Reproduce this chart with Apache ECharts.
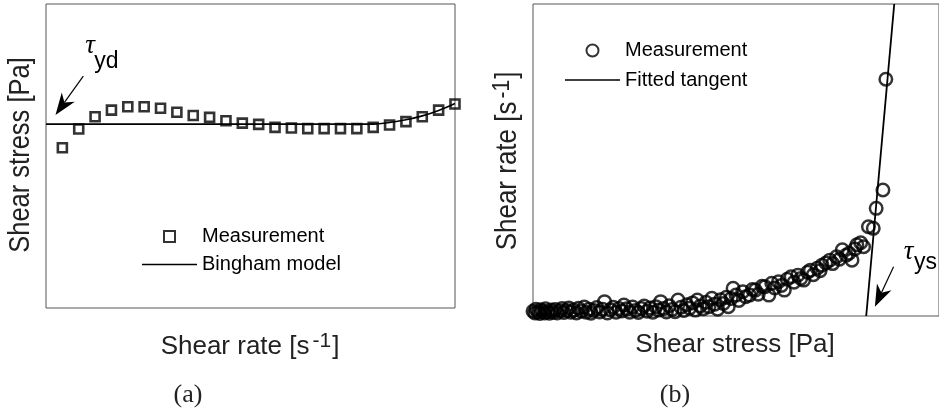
<!DOCTYPE html>
<html>
<head>
<meta charset="utf-8">
<script src="https://cdn.jsdelivr.net/npm/echarts@6/dist/echarts.min.js"></script>
<style>
  html, body { margin: 0; padding: 0; background: #fff; }
  #chart { width: 939px; height: 409px; }
</style>
</head>
<body>
<div id="chart"></div>
<script>
// (a) dynamic yield stress: stress measured at each shear-rate step, with the Bingham fit
const rateSteps = [1, 2, 3, 4, 5, 6, 7, 8, 9, 10, 11, 12, 13, 14, 15, 16, 17, 18, 19, 20, 21, 22, 23, 24, 25];
const measuredStress = [52.7, 58.9, 62.9, 65.1, 66.2, 66.2, 65.7, 64.4, 63.3, 62.7, 61.6, 60.8, 60.4, 59.4, 59.2,
                        59.0, 59.0, 59.0, 59.0, 59.4, 60.2, 61.3, 62.9, 65.1, 67.1];
const binghamRate = [0, 20, 21, 22, 23, 24, 25];
const binghamStress = [60.5, 60.5, 61.0, 61.9, 63.2, 65.0, 67.3];

// (b) static yield stress: shear rate against applied stress, with the fitted tangent
const appliedStress = [
  0.0, 0.2, 0.3, 0.5, 0.7, 0.8, 1.0, 1.2, 1.3, 1.5, 1.7, 1.9, 2.1, 2.3, 2.5, 2.8, 3.0, 3.2, 3.5, 3.7,
  3.9, 4.2, 4.5, 4.7, 5.0, 5.3, 5.5, 5.8, 6.0, 6.3, 6.6, 6.9, 7.2, 7.4, 7.7, 8.0, 8.3, 8.6, 8.9, 9.2,
  9.4, 9.7, 10.0, 10.3, 10.6, 10.9, 11.2, 11.5, 11.8, 12.1, 12.4, 12.7, 13.0, 13.2, 13.5, 13.8, 14.1, 14.4, 14.7, 15.0,
  15.3, 15.6, 15.9, 16.2, 16.5, 16.8, 17.0, 17.3, 17.6, 17.9, 18.2, 18.5, 18.8, 19.1, 19.4, 19.7, 20.0, 20.2, 20.5, 20.7,
  21.0, 21.3, 21.7, 22.0, 22.4, 22.7, 23.0, 23.3, 23.7, 24.0, 24.4, 24.7, 25.0, 25.4, 25.7, 26.0, 26.3, 26.7, 27.0, 27.4,
  27.7, 28.0, 28.4, 28.7, 29.0, 29.4, 29.7, 29.9, 30.3, 30.7, 31.0, 31.4, 31.7, 32.0, 32.4, 32.7, 33.0, 33.3, 33.5, 33.9,
  34.2, 34.7, 35.2, 35.5, 36.2, 36.5
];
const observedRate = [
  1.5, 1.0, 2.2, 1.3, 0.8, 2.0, 1.6, 1.0, 2.3, 1.4, 0.9, 1.9, 1.2, 2.1, 1.0, 1.7, 2.4, 1.1, 1.8, 2.6,
  1.2, 1.9, 1.0, 2.5, 1.5, 2.9, 1.2, 2.2, 0.9, 1.8, 2.7, 1.3, 2.2, 4.6, 1.0, 2.0, 2.8, 1.2, 2.4, 1.6,
  3.5, 2.3, 1.2, 2.9, 1.8, 1.1, 2.4, 3.2, 1.5, 2.6, 1.2, 3.0, 1.9, 4.6, 2.4, 1.3, 3.3, 2.1, 1.4, 5.1,
  2.8, 1.8, 3.6, 2.5, 4.2, 1.9, 5.1, 3.2, 2.3, 4.4, 3.0, 5.7, 3.8, 2.2, 5.2, 4.0, 6.0, 3.0, 5.6, 8.9,
  6.7, 5.0, 7.8, 6.2, 6.7, 8.5, 8.3, 7.0, 9.5, 9.4, 6.7, 10.5, 9.0, 11.0, 9.8, 8.3, 11.8, 12.6, 10.8, 13.1,
  12.0, 11.5, 14.0, 14.7, 13.2, 15.3, 14.5, 16.3, 17.0, 17.9, 16.8, 19.0, 18.2, 21.2, 19.5, 20.1, 17.9, 21.5, 22.8, 23.5,
  22.2, 28.6, 28.1, 34.5, 40.4, 75.9
];
const tangentStress = [34.47, 37.37];
const tangentRate = [0, 100];

// yield-stress pointers, in data coordinates of their panel: [tail, tip]
const tauYdArrow = { grid: 0, tail: [2.28, 76.3], tip: [0.58, 63.5] };
const tauYsArrow = { grid: 1, tail: [37.3, 15.8], tip: [35.37, 2.98] };

const SANS = '"Liberation Sans", Arial, Helvetica, sans-serif';
const SERIF = '"Liberation Serif", "Times New Roman", serif';
const INK = '#000';
const TITLE = '#222';

// legend glyphs: hollow square, and a plain stroke for the fitted lines
const SQUARE_ICON = 'path://M0,0H10V10H0Z';
const LINE_ICON = 'path://M0,0H55V1.7H0Z';

const zip = (xs, ys) => xs.map((x, i) => [x, ys[i]]);

const titleRich = (size) => ({
  m: { fontSize: size, fontFamily: SANS, fill: TITLE, lineHeight: 32, verticalAlign: 'bottom' },
  p: { fontSize: 21, fontFamily: SANS, fill: TITLE, lineHeight: 32, verticalAlign: 'bottom', padding: [0, 1, 8, 3] }
});

const texts = [
  // axis titles of (a)
  {
    id: 'ya', type: 'text', x: 21, y: 155, rotation: Math.PI / 2, scaleY: 1.12, silent: true,
    style: { text: 'Shear stress [Pa]', fontSize: 25.5, fontFamily: SANS, fill: TITLE, align: 'center', verticalAlign: 'middle' }
  },
  {
    id: 'xa', type: 'text', x: 250, y: 344, silent: true,
    style: { text: '{m|Shear rate [s}{p|-1}{m|]}', rich: titleRich(26), align: 'center', verticalAlign: 'middle' }
  },
  // axis titles of (b)
  {
    id: 'yb', type: 'text', x: 505, y: 161, rotation: Math.PI / 2, scaleY: 1.12, silent: true,
    style: { text: '{m|Shear rate [s}{p|-1}{m|]}', rich: titleRich(26), align: 'center', verticalAlign: 'middle' }
  },
  {
    id: 'xb', type: 'text', x: 735, y: 345, silent: true,
    style: { text: 'Shear stress [Pa]', fontSize: 26, fontFamily: SANS, fill: TITLE, align: 'center', verticalAlign: 'middle' }
  },
  // sub-figure captions
  {
    id: 'capA', type: 'text', x: 188, y: 395, silent: true,
    style: { text: '(a)', fontSize: 26, fontFamily: SERIF, fill: TITLE, align: 'center', verticalAlign: 'middle' }
  },
  {
    id: 'capB', type: 'text', x: 675, y: 395, silent: true,
    style: { text: '(b)', fontSize: 26, fontFamily: SERIF, fill: TITLE, align: 'center', verticalAlign: 'middle' }
  },
  // yield-stress symbols
  {
    id: 'tauD', type: 'text', x: 90, y: 46, silent: true,
    style: { text: 'τ', fontSize: 27, fontStyle: 'italic', fontFamily: SERIF, fill: INK, align: 'center', verticalAlign: 'middle' }
  },
  {
    id: 'subD', type: 'text', x: 106.5, y: 62, silent: true,
    style: { text: 'yd', fontSize: 23, fontFamily: SANS, fill: INK, align: 'center', verticalAlign: 'middle' }
  },
  {
    id: 'tauS', type: 'text', x: 908.5, y: 252, silent: true,
    style: { text: 'τ', fontSize: 27, fontStyle: 'italic', fontFamily: SERIF, fill: INK, align: 'center', verticalAlign: 'middle' }
  },
  {
    id: 'subS', type: 'text', x: 925.5, y: 263, silent: true,
    style: { text: 'ys', fontSize: 23, fontFamily: SANS, fill: INK, align: 'center', verticalAlign: 'middle' }
  }
];

const chart = echarts.init(document.getElementById('chart'), null, { renderer: 'canvas' });

const option = {
  animation: false,
  backgroundColor: '#fff',
  grid: [
    { left: 46, top: 4, width: 409, height: 304, show: true, borderColor: '#555', borderWidth: 1, backgroundColor: 'transparent' },
    { left: 533, top: 4, width: 420, height: 312, show: true, borderColor: '#555', borderWidth: 1, backgroundColor: 'transparent' }
  ],
  xAxis: [
    { gridIndex: 0, type: 'value', min: 0, max: 25, show: false },
    { gridIndex: 1, type: 'value', min: 0, max: 42, show: false }
  ],
  yAxis: [
    { gridIndex: 0, type: 'value', min: 0, max: 100, show: false },
    { gridIndex: 1, type: 'value', min: 0, max: 100, show: false }
  ],
  legend: [
    {
      orient: 'vertical', left: 142, top: 226.5, padding: 0,
      itemWidth: 55, itemHeight: 11, itemGap: 8,
      symbolKeepAspect: true,
      textStyle: { fontSize: 20, fontFamily: SANS, color: INK },
      data: [
        { name: 'Measurement', icon: SQUARE_ICON },
        { name: 'Bingham model', icon: LINE_ICON, itemStyle: { borderWidth: 0 } }
      ],
      selectedMode: false
    },
    {
      orient: 'vertical', left: 565, top: 40.5, padding: 0,
      itemWidth: 55, itemHeight: 12, itemGap: 9.5,
      symbolKeepAspect: true,
      textStyle: { fontSize: 20, fontFamily: SANS, color: INK },
      data: [
        { name: 'Measurement ', icon: 'circle' },
        { name: 'Fitted tangent', icon: LINE_ICON, itemStyle: { borderWidth: 0 } }
      ],
      formatter: (name) => name.trim(),
      selectedMode: false
    }
  ],
  series: [
    {
      name: 'Bingham model',
      type: 'line',
      xAxisIndex: 0, yAxisIndex: 0,
      data: zip(binghamRate, binghamStress),
      smooth: 0.4,
      symbol: 'none',
      lineStyle: { color: INK, width: 1.6 },
      itemStyle: { color: INK },
      z: 2
    },
    {
      name: 'Measurement',
      type: 'scatter',
      xAxisIndex: 0, yAxisIndex: 0,
      data: zip(rateSteps, measuredStress),
      symbol: 'rect',
      symbolSize: 9,
      itemStyle: { color: 'rgba(0,0,0,0)', borderColor: INK, borderWidth: 2.6 },
      z: 3
    },
    {
      name: 'Fitted tangent',
      type: 'line',
      xAxisIndex: 1, yAxisIndex: 1,
      data: zip(tangentStress, tangentRate),
      symbol: 'none',
      lineStyle: { color: INK, width: 1.8 },
      itemStyle: { color: INK },
      z: 2
    },
    {
      name: 'Measurement ',
      type: 'scatter',
      xAxisIndex: 1, yAxisIndex: 1,
      data: zip(appliedStress, observedRate),
      symbol: 'circle',
      symbolSize: 12.5,
      clip: false,
      itemStyle: { color: 'rgba(0,0,0,0)', borderColor: INK, borderWidth: 2.5 },
      z: 3
    }
  ],
  graphic: texts
};

chart.setOption(option);

// pointer arrows: thin shaft plus a filled, notched head, placed through the panel's axes
function pointer(id, spec) {
  const t = chart.convertToPixel({ gridIndex: spec.grid }, spec.tail);
  const p = chart.convertToPixel({ gridIndex: spec.grid }, spec.tip);
  const dx = p[0] - t[0], dy = p[1] - t[1];
  const len = Math.hypot(dx, dy);
  const ux = dx / len, uy = dy / len;          // along the shaft
  const nx = -uy, ny = ux;                       // across the shaft
  const headLen = 22, halfW = 8, notch = 0.7 * headLen;
  const base = [p[0] - ux * headLen, p[1] - uy * headLen];
  const neck = [p[0] - ux * notch, p[1] - uy * notch];
  return [
    {
      id: id + 'Shaft', type: 'line', silent: true, z: 10,
      shape: { x1: t[0], y1: t[1], x2: neck[0], y2: neck[1] },
      style: { stroke: INK, lineWidth: 1.2 }
    },
    {
      id: id + 'Head', type: 'polygon', silent: true, z: 10,
      shape: { points: [p, [base[0] + nx * halfW, base[1] + ny * halfW], neck, [base[0] - nx * halfW, base[1] - ny * halfW]] },
      style: { fill: INK }
    }
  ];
}

chart.setOption({
  graphic: texts.concat(pointer('yd', tauYdArrow), pointer('ys', tauYsArrow))
}, { replaceMerge: ['graphic'] });
</script>
</body>
</html>
